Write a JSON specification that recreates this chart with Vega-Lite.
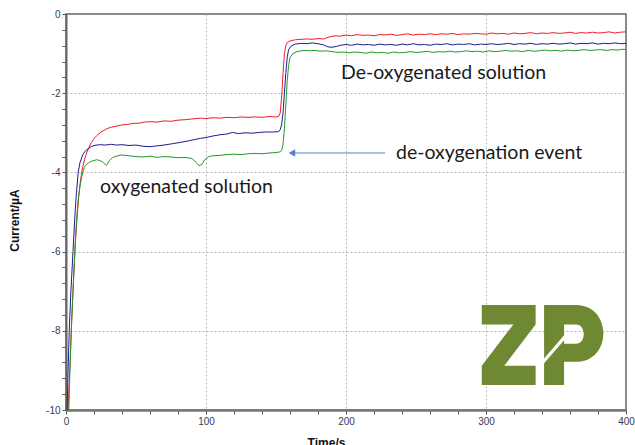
{
  "$schema": "https://vega.github.io/schema/vega-lite/v6.json",
  "width": 560,
  "height": 396,
  "autosize": "none",
  "padding": {"left": 66, "top": 14, "right": 9, "bottom": 35},
  "config": {
    "view": {"stroke": "#666", "strokeWidth": 1.5},
    "axis": {
      "labelFont": "Liberation Sans",
      "labelFontSize": 10,
      "labelColor": "#3a3a55",
      "titleFont": "Liberation Sans",
      "titleFontSize": 12,
      "titleFontWeight": "bold",
      "titleColor": "#111",
      "tickColor": "#555",
      "tickSize": 4,
      "tickCount": 100,
      "labelPadding": 2,
      "gridColor": "#b8b8b8",
      "gridDash": [2, 2],
      "labelOverlap": false,
      "labelFlush": false
    }
  },
  "datasets": {
    "lines": [
      {"t": 1.5, "v": -10, "s": "red"}, {"t": 3, "v": -8.7, "s": "red"}, {"t": 4, "v": -7.8, "s": "red"}, {"t": 5, "v": -7.0, "s": "red"}, {"t": 6, "v": -6.3, "s": "red"}, {"t": 7, "v": -5.6, "s": "red"}, {"t": 8, "v": -5.1, "s": "red"}, {"t": 9, "v": -4.65, "s": "red"}, {"t": 10, "v": -4.3, "s": "red"}, {"t": 11, "v": -4.05, "s": "red"}, {"t": 12, "v": -3.85, "s": "red"}, {"t": 14, "v": -3.58, "s": "red"}, {"t": 16, "v": -3.4, "s": "red"}, {"t": 18, "v": -3.25, "s": "red"}, {"t": 20, "v": -3.15, "s": "red"}, {"t": 22, "v": -3.07, "s": "red"}, {"t": 25, "v": -2.98, "s": "red"}, {"t": 29, "v": -2.9, "s": "red"}, {"t": 32, "v": -2.86, "s": "red"}, {"t": 35, "v": -2.84, "s": "red"}, {"t": 40, "v": -2.8, "s": "red"}, {"t": 44, "v": -2.79, "s": "red"}, {"t": 48, "v": -2.76, "s": "red"}, {"t": 52, "v": -2.76, "s": "red"}, {"t": 56, "v": -2.73, "s": "red"}, {"t": 60, "v": -2.72, "s": "red"}, {"t": 65, "v": -2.73, "s": "red"}, {"t": 70, "v": -2.7, "s": "red"}, {"t": 75, "v": -2.71, "s": "red"}, {"t": 80, "v": -2.68, "s": "red"}, {"t": 85, "v": -2.67, "s": "red"}, {"t": 90, "v": -2.65, "s": "red"}, {"t": 96, "v": -2.63, "s": "red"}, {"t": 100, "v": -2.64, "s": "red"}, {"t": 105, "v": -2.62, "s": "red"}, {"t": 110, "v": -2.63, "s": "red"}, {"t": 115, "v": -2.61, "s": "red"}, {"t": 120, "v": -2.62, "s": "red"}, {"t": 125, "v": -2.6, "s": "red"}, {"t": 130, "v": -2.61, "s": "red"}, {"t": 135, "v": -2.6, "s": "red"}, {"t": 140, "v": -2.61, "s": "red"}, {"t": 145, "v": -2.59, "s": "red"}, {"t": 150, "v": -2.6, "s": "red"}, {"t": 152, "v": -2.58, "s": "red"}, {"t": 153, "v": -2.5, "s": "red"}, {"t": 154, "v": -2.1, "s": "red"}, {"t": 155, "v": -1.5, "s": "red"}, {"t": 156, "v": -1.0, "s": "red"}, {"t": 157, "v": -0.8, "s": "red"}, {"t": 158, "v": -0.72, "s": "red"},
      {"t": 160, "v": -0.68, "s": "red"}, {"t": 164, "v": -0.65, "s": "red"}, {"t": 168, "v": -0.64, "s": "red"}, {"t": 172, "v": -0.63, "s": "red"}, {"t": 176, "v": -0.64, "s": "red"}, {"t": 180, "v": -0.62, "s": "red"}, {"t": 184, "v": -0.63, "s": "red"}, {"t": 188, "v": -0.58, "s": "red"}, {"t": 192, "v": -0.55, "s": "red"}, {"t": 196, "v": -0.56, "s": "red"}, {"t": 200, "v": -0.53, "s": "red"}, {"t": 204, "v": -0.55, "s": "red"}, {"t": 208, "v": -0.52, "s": "red"}, {"t": 212, "v": -0.54, "s": "red"}, {"t": 216, "v": -0.53, "s": "red"}, {"t": 220, "v": -0.55, "s": "red"}, {"t": 224, "v": -0.52, "s": "red"}, {"t": 228, "v": -0.53, "s": "red"}, {"t": 232, "v": -0.51, "s": "red"}, {"t": 236, "v": -0.54, "s": "red"}, {"t": 240, "v": -0.52, "s": "red"}, {"t": 244, "v": -0.5, "s": "red"}, {"t": 248, "v": -0.53, "s": "red"}, {"t": 252, "v": -0.51, "s": "red"}, {"t": 256, "v": -0.52, "s": "red"}, {"t": 260, "v": -0.5, "s": "red"}, {"t": 264, "v": -0.52, "s": "red"}, {"t": 268, "v": -0.5, "s": "red"}, {"t": 272, "v": -0.51, "s": "red"}, {"t": 276, "v": -0.49, "s": "red"}, {"t": 280, "v": -0.52, "s": "red"}, {"t": 284, "v": -0.5, "s": "red"}, {"t": 288, "v": -0.51, "s": "red"}, {"t": 292, "v": -0.49, "s": "red"}, {"t": 296, "v": -0.5, "s": "red"}, {"t": 300, "v": -0.51, "s": "red"}, {"t": 304, "v": -0.48, "s": "red"}, {"t": 308, "v": -0.5, "s": "red"}, {"t": 312, "v": -0.49, "s": "red"}, {"t": 316, "v": -0.51, "s": "red"}, {"t": 320, "v": -0.48, "s": "red"}, {"t": 324, "v": -0.5, "s": "red"}, {"t": 328, "v": -0.49, "s": "red"}, {"t": 332, "v": -0.47, "s": "red"}, {"t": 336, "v": -0.5, "s": "red"}, {"t": 340, "v": -0.48, "s": "red"}, {"t": 344, "v": -0.49, "s": "red"}, {"t": 348, "v": -0.47, "s": "red"}, {"t": 352, "v": -0.49, "s": "red"}, {"t": 356, "v": -0.48, "s": "red"}, {"t": 360, "v": -0.46, "s": "red"}, {"t": 364, "v": -0.49, "s": "red"}, {"t": 368, "v": -0.47, "s": "red"}, {"t": 372, "v": -0.48, "s": "red"}, {"t": 376, "v": -0.46, "s": "red"}, {"t": 380, "v": -0.48, "s": "red"}, {"t": 384, "v": -0.47, "s": "red"}, {"t": 388, "v": -0.45, "s": "red"}, {"t": 392, "v": -0.48, "s": "red"}, {"t": 396, "v": -0.46, "s": "red"}, {"t": 400, "v": -0.45, "s": "red"},

      {"t": 0.8, "v": -10, "s": "blue"}, {"t": 1.5, "v": -9.0, "s": "blue"}, {"t": 2.3, "v": -8.0, "s": "blue"}, {"t": 3.5, "v": -7.0, "s": "blue"}, {"t": 5, "v": -6.0, "s": "blue"}, {"t": 6.5, "v": -5.0, "s": "blue"}, {"t": 7.5, "v": -4.5, "s": "blue"}, {"t": 8.7, "v": -4.0, "s": "blue"}, {"t": 10, "v": -3.75, "s": "blue"}, {"t": 12, "v": -3.55, "s": "blue"}, {"t": 14, "v": -3.45, "s": "blue"}, {"t": 16, "v": -3.4, "s": "blue"}, {"t": 18, "v": -3.35, "s": "blue"}, {"t": 20, "v": -3.32, "s": "blue"}, {"t": 24, "v": -3.3, "s": "blue"}, {"t": 28, "v": -3.31, "s": "blue"}, {"t": 32, "v": -3.29, "s": "blue"}, {"t": 36, "v": -3.31, "s": "blue"}, {"t": 40, "v": -3.3, "s": "blue"}, {"t": 45, "v": -3.32, "s": "blue"}, {"t": 50, "v": -3.31, "s": "blue"}, {"t": 55, "v": -3.34, "s": "blue"}, {"t": 60, "v": -3.35, "s": "blue"}, {"t": 65, "v": -3.33, "s": "blue"}, {"t": 70, "v": -3.31, "s": "blue"}, {"t": 77, "v": -3.27, "s": "blue"}, {"t": 82, "v": -3.24, "s": "blue"}, {"t": 88, "v": -3.2, "s": "blue"}, {"t": 92, "v": -3.17, "s": "blue"}, {"t": 96, "v": -3.14, "s": "blue"}, {"t": 100, "v": -3.12, "s": "blue"}, {"t": 105, "v": -3.08, "s": "blue"}, {"t": 110, "v": -3.05, "s": "blue"}, {"t": 115, "v": -3.03, "s": "blue"}, {"t": 119, "v": -2.99, "s": "blue"}, {"t": 123, "v": -3.02, "s": "blue"}, {"t": 128, "v": -3.0, "s": "blue"}, {"t": 133, "v": -3.01, "s": "blue"}, {"t": 138, "v": -2.99, "s": "blue"}, {"t": 143, "v": -2.98, "s": "blue"}, {"t": 148, "v": -2.98, "s": "blue"}, {"t": 152, "v": -2.97, "s": "blue"}, {"t": 153, "v": -2.92, "s": "blue"}, {"t": 154, "v": -2.8, "s": "blue"}, {"t": 155, "v": -2.5, "s": "blue"}, {"t": 156, "v": -2.0, "s": "blue"}, {"t": 157, "v": -1.5, "s": "blue"}, {"t": 158, "v": -1.1, "s": "blue"}, {"t": 159, "v": -0.9, "s": "blue"},
      {"t": 161, "v": -0.8, "s": "blue"}, {"t": 164, "v": -0.76, "s": "blue"}, {"t": 168, "v": -0.74, "s": "blue"}, {"t": 172, "v": -0.75, "s": "blue"}, {"t": 176, "v": -0.73, "s": "blue"}, {"t": 180, "v": -0.75, "s": "blue"}, {"t": 184, "v": -0.78, "s": "blue"}, {"t": 187, "v": -0.83, "s": "blue"}, {"t": 190, "v": -0.84, "s": "blue"}, {"t": 193, "v": -0.82, "s": "blue"}, {"t": 196, "v": -0.79, "s": "blue"}, {"t": 200, "v": -0.77, "s": "blue"}, {"t": 204, "v": -0.79, "s": "blue"}, {"t": 208, "v": -0.76, "s": "blue"}, {"t": 212, "v": -0.78, "s": "blue"}, {"t": 216, "v": -0.77, "s": "blue"}, {"t": 220, "v": -0.79, "s": "blue"}, {"t": 224, "v": -0.76, "s": "blue"}, {"t": 228, "v": -0.78, "s": "blue"}, {"t": 232, "v": -0.77, "s": "blue"}, {"t": 236, "v": -0.79, "s": "blue"}, {"t": 240, "v": -0.76, "s": "blue"}, {"t": 244, "v": -0.78, "s": "blue"}, {"t": 248, "v": -0.75, "s": "blue"}, {"t": 252, "v": -0.78, "s": "blue"}, {"t": 256, "v": -0.77, "s": "blue"}, {"t": 260, "v": -0.79, "s": "blue"}, {"t": 264, "v": -0.76, "s": "blue"}, {"t": 268, "v": -0.77, "s": "blue"}, {"t": 272, "v": -0.75, "s": "blue"}, {"t": 276, "v": -0.78, "s": "blue"}, {"t": 280, "v": -0.76, "s": "blue"}, {"t": 284, "v": -0.77, "s": "blue"}, {"t": 288, "v": -0.75, "s": "blue"}, {"t": 292, "v": -0.78, "s": "blue"}, {"t": 296, "v": -0.76, "s": "blue"}, {"t": 300, "v": -0.77, "s": "blue"}, {"t": 304, "v": -0.75, "s": "blue"}, {"t": 308, "v": -0.77, "s": "blue"}, {"t": 312, "v": -0.76, "s": "blue"}, {"t": 316, "v": -0.74, "s": "blue"}, {"t": 320, "v": -0.77, "s": "blue"}, {"t": 324, "v": -0.75, "s": "blue"}, {"t": 328, "v": -0.76, "s": "blue"}, {"t": 332, "v": -0.74, "s": "blue"}, {"t": 336, "v": -0.77, "s": "blue"}, {"t": 340, "v": -0.75, "s": "blue"}, {"t": 344, "v": -0.76, "s": "blue"}, {"t": 348, "v": -0.74, "s": "blue"}, {"t": 352, "v": -0.76, "s": "blue"}, {"t": 356, "v": -0.75, "s": "blue"}, {"t": 360, "v": -0.73, "s": "blue"}, {"t": 364, "v": -0.76, "s": "blue"}, {"t": 368, "v": -0.74, "s": "blue"}, {"t": 372, "v": -0.75, "s": "blue"}, {"t": 376, "v": -0.73, "s": "blue"}, {"t": 380, "v": -0.76, "s": "blue"}, {"t": 384, "v": -0.74, "s": "blue"}, {"t": 388, "v": -0.75, "s": "blue"}, {"t": 392, "v": -0.73, "s": "blue"}, {"t": 396, "v": -0.75, "s": "blue"}, {"t": 400, "v": -0.74, "s": "blue"},

      {"t": 2, "v": -10, "s": "green"}, {"t": 3, "v": -8.8, "s": "green"}, {"t": 4, "v": -7.8, "s": "green"}, {"t": 5, "v": -7.0, "s": "green"}, {"t": 6, "v": -6.2, "s": "green"}, {"t": 7, "v": -5.5, "s": "green"}, {"t": 8, "v": -5.0, "s": "green"}, {"t": 9, "v": -4.6, "s": "green"}, {"t": 10, "v": -4.35, "s": "green"}, {"t": 11, "v": -4.15, "s": "green"}, {"t": 12, "v": -4.0, "s": "green"}, {"t": 13, "v": -3.88, "s": "green"}, {"t": 14, "v": -3.82, "s": "green"}, {"t": 16, "v": -3.76, "s": "green"}, {"t": 18, "v": -3.72, "s": "green"}, {"t": 20, "v": -3.7, "s": "green"}, {"t": 22, "v": -3.68, "s": "green"}, {"t": 24, "v": -3.7, "s": "green"}, {"t": 26, "v": -3.73, "s": "green"}, {"t": 28, "v": -3.8, "s": "green"}, {"t": 29, "v": -3.82, "s": "green"}, {"t": 31, "v": -3.7, "s": "green"}, {"t": 33, "v": -3.63, "s": "green"}, {"t": 35, "v": -3.6, "s": "green"}, {"t": 37, "v": -3.58, "s": "green"}, {"t": 40, "v": -3.56, "s": "green"}, {"t": 45, "v": -3.58, "s": "green"}, {"t": 50, "v": -3.6, "s": "green"}, {"t": 55, "v": -3.61, "s": "green"}, {"t": 60, "v": -3.59, "s": "green"}, {"t": 65, "v": -3.62, "s": "green"}, {"t": 70, "v": -3.6, "s": "green"}, {"t": 75, "v": -3.61, "s": "green"}, {"t": 80, "v": -3.63, "s": "green"}, {"t": 85, "v": -3.62, "s": "green"}, {"t": 90, "v": -3.65, "s": "green"}, {"t": 93, "v": -3.75, "s": "green"}, {"t": 95, "v": -3.83, "s": "green"}, {"t": 97, "v": -3.8, "s": "green"}, {"t": 99, "v": -3.68, "s": "green"}, {"t": 102, "v": -3.6, "s": "green"}, {"t": 105, "v": -3.58, "s": "green"}, {"t": 110, "v": -3.57, "s": "green"}, {"t": 115, "v": -3.55, "s": "green"}, {"t": 120, "v": -3.54, "s": "green"}, {"t": 125, "v": -3.55, "s": "green"}, {"t": 130, "v": -3.53, "s": "green"}, {"t": 135, "v": -3.52, "s": "green"}, {"t": 140, "v": -3.53, "s": "green"}, {"t": 145, "v": -3.51, "s": "green"}, {"t": 150, "v": -3.5, "s": "green"}, {"t": 153, "v": -3.48, "s": "green"}, {"t": 154, "v": -3.45, "s": "green"}, {"t": 155, "v": -3.3, "s": "green"}, {"t": 156, "v": -2.9, "s": "green"}, {"t": 157, "v": -2.3, "s": "green"}, {"t": 158, "v": -1.7, "s": "green"}, {"t": 159, "v": -1.3, "s": "green"}, {"t": 160, "v": -1.1, "s": "green"},
      {"t": 162, "v": -1.0, "s": "green"}, {"t": 165, "v": -0.95, "s": "green"}, {"t": 170, "v": -0.92, "s": "green"}, {"t": 174, "v": -0.93, "s": "green"}, {"t": 178, "v": -0.92, "s": "green"}, {"t": 182, "v": -0.94, "s": "green"}, {"t": 186, "v": -0.93, "s": "green"}, {"t": 190, "v": -0.95, "s": "green"}, {"t": 194, "v": -0.97, "s": "green"}, {"t": 198, "v": -0.96, "s": "green"}, {"t": 202, "v": -0.98, "s": "green"}, {"t": 206, "v": -0.96, "s": "green"}, {"t": 210, "v": -0.97, "s": "green"}, {"t": 214, "v": -0.99, "s": "green"}, {"t": 218, "v": -0.96, "s": "green"}, {"t": 222, "v": -0.98, "s": "green"}, {"t": 226, "v": -0.97, "s": "green"}, {"t": 230, "v": -0.99, "s": "green"}, {"t": 234, "v": -0.96, "s": "green"}, {"t": 238, "v": -0.98, "s": "green"}, {"t": 242, "v": -0.97, "s": "green"}, {"t": 246, "v": -0.95, "s": "green"}, {"t": 250, "v": -0.97, "s": "green"}, {"t": 254, "v": -0.96, "s": "green"}, {"t": 258, "v": -0.94, "s": "green"}, {"t": 262, "v": -0.97, "s": "green"}, {"t": 266, "v": -0.95, "s": "green"}, {"t": 270, "v": -0.96, "s": "green"}, {"t": 274, "v": -0.94, "s": "green"}, {"t": 278, "v": -0.96, "s": "green"}, {"t": 282, "v": -0.95, "s": "green"}, {"t": 286, "v": -0.93, "s": "green"}, {"t": 290, "v": -0.95, "s": "green"}, {"t": 294, "v": -0.94, "s": "green"}, {"t": 298, "v": -0.96, "s": "green"}, {"t": 302, "v": -0.93, "s": "green"}, {"t": 306, "v": -0.95, "s": "green"}, {"t": 310, "v": -0.94, "s": "green"}, {"t": 314, "v": -0.92, "s": "green"}, {"t": 318, "v": -0.94, "s": "green"}, {"t": 322, "v": -0.93, "s": "green"}, {"t": 326, "v": -0.95, "s": "green"}, {"t": 330, "v": -0.92, "s": "green"}, {"t": 334, "v": -0.94, "s": "green"}, {"t": 338, "v": -0.93, "s": "green"}, {"t": 342, "v": -0.91, "s": "green"}, {"t": 346, "v": -0.93, "s": "green"}, {"t": 350, "v": -0.92, "s": "green"}, {"t": 354, "v": -0.94, "s": "green"}, {"t": 358, "v": -0.91, "s": "green"}, {"t": 362, "v": -0.93, "s": "green"}, {"t": 366, "v": -0.92, "s": "green"}, {"t": 370, "v": -0.9, "s": "green"}, {"t": 374, "v": -0.92, "s": "green"}, {"t": 378, "v": -0.91, "s": "green"}, {"t": 382, "v": -0.9, "s": "green"}, {"t": 386, "v": -0.92, "s": "green"}, {"t": 390, "v": -0.9, "s": "green"}, {"t": 394, "v": -0.91, "s": "green"}, {"t": 398, "v": -0.89, "s": "green"}, {"t": 400, "v": -0.9, "s": "green"}
    ],
    "labels": [
      {"t": 24.3, "v": -4.37, "text": "oxygenated solution"},
      {"t": 196.4, "v": -1.49, "text": "De-oxygenated solution"},
      {"t": 235.7, "v": -3.51, "text": "de-oxygenation event"}
    ],
    "arrow": [{"t": 161.4, "t2": 227.9, "v": -3.51}],
    "logo": [{"t": 340.4, "v": -8.36}]
  },
  "layer": [
    {
      "data": {"name": "lines"},
      "mark": {"type": "line", "strokeWidth": 1, "clip": true},
      "encoding": {
        "x": {
          "field": "t", "type": "quantitative",
          "scale": {"domain": [0, 400], "nice": false},
          "axis": {
            "title": "Time/s",
            "values": [0, 20, 40, 60, 80, 100, 120, 140, 160, 180, 200, 220, 240, 260, 280, 300, 320, 340, 360, 380, 400],
            "tickCount": 100,
            "labelExpr": "abs(datum.value % 100) < 0.001 ? '' + datum.value : ''",
            "gridOpacity": {"condition": {"test": "abs(datum.value % 100) < 0.001 && datum.value > 0 && datum.value < 400", "value": 1}, "value": 0},
            "domainColor": "#777",
            "domainWidth": 2.5,
            "titleX": 260,
            "titleY": 27,
            "titleBaseline": "top",
            "titleAlign": "center"
          }
        },
        "y": {
          "field": "v", "type": "quantitative",
          "scale": {"domain": [-10, 0], "nice": false, "zero": false},
          "axis": {
            "title": "Current/µA",
            "values": [-10, -9.6, -9.2, -8.8, -8.4, -8, -7.6, -7.2, -6.8, -6.4, -6, -5.6, -5.2, -4.8, -4.4, -4, -3.6, -3.2, -2.8, -2.4, -2, -1.6, -1.2, -0.8, -0.4, 0],
            "tickCount": 100,
            "labelExpr": "abs(datum.value % 2) < 0.001 ? '' + datum.value : ''",
            "gridOpacity": {"condition": {"test": "abs(datum.value % 2) < 0.001 && datum.value > -10 && datum.value < 0", "value": 1}, "value": 0},
            "domainColor": "#666",
            "domainWidth": 2,
            "titleX": -52,
            "titleY": 206,
            "titleAngle": -90,
            "titleAlign": "center",
            "titleBaseline": "middle"
          }
        },
        "color": {
          "field": "s", "type": "nominal",
          "scale": {"domain": ["red", "blue", "green"], "range": ["#f01c2c", "#1c1c90", "#22992a"]},
          "legend": null
        }
      }
    },
    {
      "data": {"name": "labels"},
      "mark": {"type": "text", "align": "left", "baseline": "middle", "font": "Lato", "fontSize": 19.5, "color": "#1a1a1a"},
      "encoding": {
        "x": {"field": "t", "type": "quantitative"},
        "y": {"field": "v", "type": "quantitative"},
        "text": {"field": "text"}
      }
    },
    {
      "data": {"name": "arrow"},
      "mark": {"type": "rule", "color": "#4f7fcf", "strokeWidth": 1},
      "encoding": {
        "x": {"field": "t", "type": "quantitative"},
        "x2": {"field": "t2"},
        "y": {"field": "v", "type": "quantitative"}
      }
    },
    {
      "data": {"name": "arrow"},
      "mark": {"type": "point", "shape": "triangle-left", "filled": true, "size": 55, "color": "#4f7fcf", "opacity": 1},
      "encoding": {
        "x": {"field": "t", "type": "quantitative"},
        "y": {"field": "v", "type": "quantitative"}
      }
    },
    {
      "data": {"name": "logo"},
      "mark": {
        "type": "point",
        "shape": "M-1,-0.658L-0.114,-0.658L-0.114,-0.34L-0.63,0.34L-0.114,0.34L-0.114,0.658L-1,0.658L-1,0.34L-0.48,-0.34L-1,-0.34Z M0.025,-0.658L0.55,-0.658C1.15,-0.658,1.15,0.274,0.55,0.274L0.354,0.274L0.354,-0.02L0.55,-0.02C0.72,-0.02,0.72,-0.34,0.55,-0.34L0.354,-0.34L0.354,-0.16L0.025,0.22Z M0.025,0.3L0.354,-0.08L0.354,0.658L0.025,0.658Z",
        "filled": true,
        "size": 14786,
        "color": "#6f8933",
        "opacity": 1,
        "strokeWidth": 0
      },
      "encoding": {
        "x": {"field": "t", "type": "quantitative"},
        "y": {"field": "v", "type": "quantitative"}
      }
    }
  ]
}
